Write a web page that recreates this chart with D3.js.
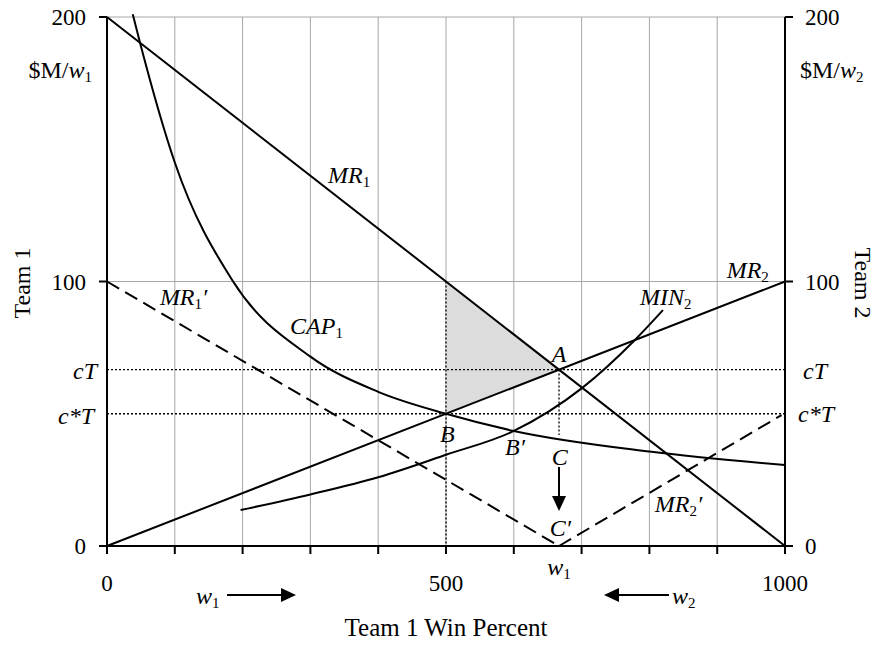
<!DOCTYPE html>
<html>
<head>
<meta charset="utf-8">
<script src="https://cdn.jsdelivr.net/npm/d3@7"></script>
<style>
  body { margin: 0; background: #fff; }
  text { font-family: "Liberation Serif", "Times New Roman", serif; fill: #000; }
</style>
</head>
<body>
<svg id="chart" width="878" height="646"></svg>
<script>
// values
const xTicks = [0, 100, 200, 300, 400, 500, 600, 700, 800, 900, 1000];
const xTickLabels = [0, 500, 1000];
const yTickLabels = [0, 100, 200];
const cT = 66.7;
const cStarT = 50;
const mr1 = [[0, 200], [1000, 0]];
const mr2 = [[0, 0], [1000, 100]];
const mr1Prime = [[0, 100], [666.7, 0]];
const mr2Prime = [[666.7, 0], [995, 49.5]];
const cap1 = [[38, 201], [49, 190], [100, 145], [186, 100], [300, 71.6],
  [400, 58.3], [500, 50], [600, 43.5], [800, 35.7], [1000, 30.6]];
const min2 = [[197, 13.6], [300, 19.5], [400, 26], [500, 34.5], [600, 43.5], [700, 59.6], [779, 78], [820, 89.2]];
const shaded = [[500, 100], [666.7, 66.7], [500, 50]];
const pointA = [666.7, 66.7];
const cBottom = 42;

const svg = d3.select("#chart");
const x = d3.scaleLinear().domain([0, 1000]).range([107, 785]);
const y = d3.scaleLinear().domain([0, 200]).range([546, 17]);
const line = d3.line().x(d => x(d[0])).y(d => y(d[1]));
const smooth = d3.line().x(d => x(d[0])).y(d => y(d[1])).curve(d3.curveMonotoneX);

// grid
svg.append("g").selectAll("line")
  .data(xTicks.slice(1, -1))
  .enter().append("line")
  .attr("x1", d => x(d)).attr("x2", d => x(d))
  .attr("y1", y(0)).attr("y2", y(200))
  .attr("stroke", "#a6a6a6").attr("stroke-width", 1);
svg.append("g").selectAll("line")
  .data([100, 200])
  .enter().append("line")
  .attr("x1", x(0)).attr("x2", x(1000))
  .attr("y1", d => y(d)).attr("y2", d => y(d))
  .attr("stroke", "#a6a6a6").attr("stroke-width", 1);

// shaded area
svg.append("path")
  .attr("d", line(shaded) + "Z")
  .attr("fill", "#dcdcdc");

// dotted guides
const dotted = svg.append("g").attr("stroke", "#000").attr("stroke-width", 1.3).attr("stroke-dasharray", "2,2");
[cT, cStarT].forEach(v => {
  dotted.append("line").attr("x1", x(0)).attr("x2", x(1000)).attr("y1", y(v)).attr("y2", y(v));
});
dotted.append("line").attr("x1", x(500)).attr("x2", x(500)).attr("y1", y(100)).attr("y2", y(0));
dotted.append("line").attr("x1", x(pointA[0])).attr("x2", x(pointA[0])).attr("y1", y(pointA[1])).attr("y2", y(cBottom));

// curves
const curves = svg.append("g").attr("fill", "none").attr("stroke", "#000").attr("stroke-width", 2);
curves.append("path").attr("d", line(mr1));
curves.append("path").attr("d", line(mr2));
curves.append("path").attr("d", smooth(cap1));
curves.append("path").attr("d", smooth(min2));
curves.append("path").attr("d", line(mr1Prime)).attr("stroke-dasharray", "14,7");
curves.append("path").attr("d", line(mr2Prime)).attr("stroke-dasharray", "14,7");

// axes
const axes = svg.append("g").attr("stroke", "#000").attr("stroke-width", 2);
axes.append("line").attr("x1", x(0)).attr("x2", x(1000)).attr("y1", y(0)).attr("y2", y(0));
axes.append("line").attr("x1", x(0)).attr("x2", x(0)).attr("y1", y(0)).attr("y2", y(200));
axes.append("line").attr("x1", x(1000)).attr("x2", x(1000)).attr("y1", y(0)).attr("y2", y(200));
axes.selectAll(".xt").data(xTicks).enter().append("line")
  .attr("x1", d => x(d)).attr("x2", d => x(d)).attr("y1", y(0)).attr("y2", y(0) + 8);
axes.selectAll(".yl").data(yTickLabels).enter().append("line")
  .attr("x1", x(0) - 8).attr("x2", x(0)).attr("y1", d => y(d)).attr("y2", d => y(d));
axes.selectAll(".yr").data(yTickLabels).enter().append("line")
  .attr("x1", x(1000)).attr("x2", x(1000) + 8).attr("y1", d => y(d)).attr("y2", d => y(d));

// tick labels
svg.append("g").selectAll("text").data(xTickLabels).enter().append("text")
  .attr("x", d => x(d)).attr("y", 591).attr("text-anchor", "middle")
  .style("font-size", "23px").text(d => d);
svg.append("g").selectAll("text").data(yTickLabels).enter().append("text")
  .attr("x", 86).attr("y", d => y(d) + 8).attr("text-anchor", "end")
  .style("font-size", "23px").text(d => d);
svg.append("g").selectAll("text").data(yTickLabels).enter().append("text")
  .attr("x", 805).attr("y", d => y(d) + 8).attr("text-anchor", "start")
  .style("font-size", "23px").text(d => d);

// helper for label with italic main part, subscript and suffix
function label(g, px, py, main, sub, suffix, opts = {}) {
  const t = g.append("text").attr("x", px).attr("y", py)
    .attr("text-anchor", opts.anchor || "start")
    .style("font-size", (opts.size || 24) + "px");
  if (opts.pre) t.append("tspan").text(opts.pre);
  t.append("tspan").style("font-style", "italic").text(main);
  if (sub) t.append("tspan").attr("dy", 4).style("font-size", "15px").text(sub);
  if (suffix) t.append("tspan").attr("dy", sub ? -4 : 0).style("font-style", "italic").text(suffix);
  return t;
}

const lab = svg.append("g");
// left side
label(lab, 92, 78, "w", "1", null, { anchor: "end", pre: "$M/" });
label(lab, 97, 379, "cT", null, null, { anchor: "end" });
label(lab, 94, 424, "c*T", null, null, { anchor: "end" });
// right side
label(lab, 800, 78, "w", "2", null, { pre: "$M/" });
label(lab, 803, 379, "cT", null, null);
label(lab, 798, 422, "c*T", null, null);

// axis titles
lab.append("text").attr("transform", "translate(30,283) rotate(-90)")
  .attr("text-anchor", "middle").style("font-size", "24px").text("Team 1");
lab.append("text").attr("transform", "translate(855,283) rotate(90)")
  .attr("text-anchor", "middle").style("font-size", "24px").text("Team 2");
lab.append("text").attr("x", x(500)).attr("y", 636)
  .attr("text-anchor", "middle").style("font-size", "25px").text("Team 1 Win Percent");

// curve labels
label(lab, x(326), y(137.2), "MR", "1", null);
label(lab, x(78), y(91.1), "MR", "1", "\u2032");
label(lab, x(270), y(80.2), "CAP", "1", null);
label(lab, x(914), y(101.3), "MR", "2", null);
label(lab, x(786), y(91.1), "MIN", "2", null);
label(lab, x(656), y(69.6), "A", null, null);
label(lab, x(491), y(39.3), "B", null, null);
label(lab, x(587), y(34.4), "B\u2032", null, null);
label(lab, x(656), y(30.6), "C", null, null);
label(lab, x(653), y(3.8), "C\u2032", null, null);
label(lab, x(808), y(12.9), "MR", "2", "\u2032");
label(lab, x(pointA[0]), 575, "w", "1", null, { anchor: "middle" });

// arrows
const arrows = svg.append("g");
const cx = x(pointA[0]);
arrows.append("line").attr("x1", cx).attr("x2", cx).attr("y1", 467).attr("y2", 497)
  .attr("stroke", "#000").attr("stroke-width", 2);
arrows.append("path").attr("d", `M${cx - 7},496 L${cx + 7},496 L${cx},511 Z`).attr("fill", "#000");

label(lab, 196, 604, "w", "1", null);
arrows.append("line").attr("x1", 227).attr("x2", 282).attr("y1", 595).attr("y2", 595)
  .attr("stroke", "#000").attr("stroke-width", 2);
arrows.append("path").attr("d", "M281,588 L296,595 L281,602 Z").attr("fill", "#000");

label(lab, 672, 604, "w", "2", null);
arrows.append("line").attr("x1", 618).attr("x2", 669).attr("y1", 595).attr("y2", 595)
  .attr("stroke", "#000").attr("stroke-width", 2);
arrows.append("path").attr("d", "M619,588 L604,595 L619,602 Z").attr("fill", "#000");
</script>
</body>
</html>
